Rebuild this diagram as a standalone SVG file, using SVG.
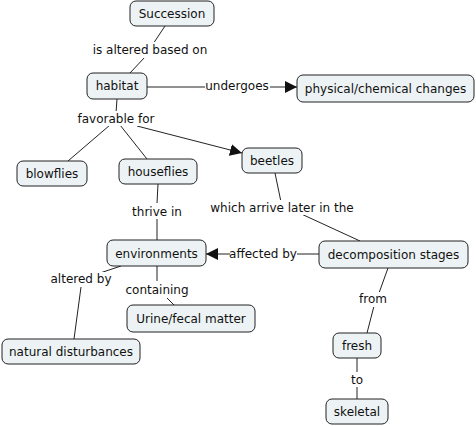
<svg xmlns="http://www.w3.org/2000/svg" width="476" height="426" viewBox="0 0 476 426">
<style>
.n rect{fill:#edf3f5;stroke:#222;stroke-width:1}
text{font-family:"DejaVu Sans",Verdana,sans-serif;font-size:12px;fill:#111;text-anchor:middle}
.c line{stroke:#222;stroke-width:1}
</style>
<defs>
<marker id="a" viewBox="0 0 10 10" refX="10" refY="5" markerWidth="12" markerHeight="12" markerUnits="userSpaceOnUse" orient="auto">
<path d="M0,0L10,5L0,10z" fill="#111"/>
</marker>
</defs>
<rect width="476" height="426" fill="#fff"/>
<g class="c">
<line x1="165" y1="26" x2="153" y2="44"/>
<line x1="145" y1="57" x2="130" y2="73"/>
<line x1="147" y1="87" x2="205" y2="87"/>
<line x1="270" y1="87" x2="297" y2="87" marker-end="url(#a)"/>
<line x1="117" y1="99" x2="116" y2="113"/>
<line x1="110" y1="125" x2="68" y2="161"/>
<line x1="120" y1="125" x2="147" y2="159"/>
<line x1="137" y1="126" x2="242" y2="153" marker-end="url(#a)"/>
<line x1="275" y1="173" x2="281" y2="202"/>
<line x1="297" y1="212" x2="360" y2="241"/>
<line x1="319" y1="254" x2="297" y2="254"/>
<line x1="230" y1="254" x2="206" y2="254" marker-end="url(#a)"/>
<line x1="388" y1="268" x2="379" y2="293"/>
<line x1="374" y1="306" x2="367" y2="333"/>
<line x1="357" y1="358" x2="357" y2="372"/>
<line x1="357" y1="387" x2="357" y2="399"/>
<line x1="158" y1="184" x2="157" y2="203"/>
<line x1="157" y1="219" x2="157" y2="240"/>
<line x1="121" y1="266" x2="100" y2="273"/>
<line x1="81" y1="287" x2="74" y2="339"/>
<line x1="157" y1="266" x2="157" y2="281"/>
<line x1="167" y1="298" x2="174" y2="305"/>
</g>
<g id="labels">
<rect x="90" y="42" width="120" height="16" fill="#fff"/>
<text x="150" y="54">is altered based on</text>
<rect x="205" y="79" width="65" height="15" fill="#fff"/>
<text x="237" y="90">undergoes</text>
<rect x="77" y="111" width="80" height="15" fill="#fff"/>
<text x="116" y="123">favorable for</text>
<rect x="129" y="204" width="56" height="15" fill="#fff"/>
<text x="157" y="216">thrive in</text>
<rect x="208" y="200" width="148" height="15" fill="#fff"/>
<text x="282" y="212">which arrive later in the</text>
<rect x="230" y="246" width="67" height="15" fill="#fff"/>
<text x="263" y="258">affected by</text>
<rect x="50" y="272" width="63" height="15" fill="#fff"/>
<text x="81" y="283">altered by</text>
<rect x="125" y="282" width="64" height="15" fill="#fff"/>
<text x="157" y="294">containing</text>
<rect x="358" y="292" width="30" height="15" fill="#fff"/>
<text x="373" y="303">from</text>
<rect x="349" y="373" width="16" height="14" fill="#fff"/>
<text x="357" y="384">to</text>
</g>
<g id="succession" class="n"><rect x="130" y="1" width="84" height="25" rx="6"/><text x="172" y="18">Succession</text></g>
<g id="habitat" class="n"><rect x="87" y="73" width="60" height="26" rx="6"/><text x="117" y="90">habitat</text></g>
<g id="physchem" class="n"><rect x="297" y="75" width="177" height="27" rx="6"/><text x="385.5" y="93">physical/chemical changes</text></g>
<g id="beetles" class="n"><rect x="242" y="148" width="60" height="25" rx="6"/><text x="272" y="165">beetles</text></g>
<g id="blowflies" class="n"><rect x="17" y="161" width="70" height="25" rx="6"/><text x="52" y="178">blowflies</text></g>
<g id="houseflies" class="n"><rect x="119" y="159" width="78" height="25" rx="6"/><text x="158" y="176">houseflies</text></g>
<g id="environments" class="n"><rect x="107" y="240" width="99" height="26" rx="6"/><text x="156.5" y="258">environments</text></g>
<g id="decomposition" class="n"><rect x="319" y="241" width="149" height="27" rx="6"/><text x="393.5" y="259">decomposition stages</text></g>
<g id="urine" class="n"><rect x="127" y="305" width="128" height="27" rx="6"/><text x="191" y="323">Urine/fecal matter</text></g>
<g id="natural" class="n"><rect x="2" y="339" width="138" height="25" rx="6"/><text x="71" y="356">natural disturbances</text></g>
<g id="fresh" class="n"><rect x="333" y="333" width="48" height="25" rx="6"/><text x="357" y="350">fresh</text></g>
<g id="skeletal" class="n"><rect x="326" y="399" width="62" height="25" rx="6"/><text x="357" y="416">skeletal</text></g>
</svg>
